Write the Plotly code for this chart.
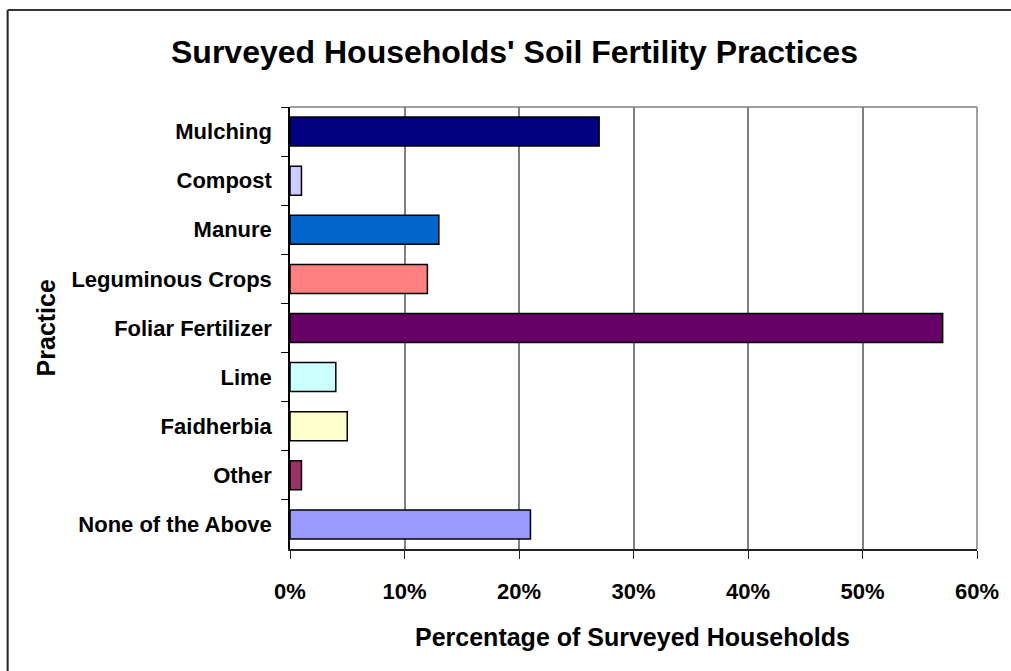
import plotly.graph_objects as go

practices = ["Mulching", "Compost", "Manure", "Leguminous Crops", "Foliar Fertilizer",
             "Lime", "Faidherbia", "Other", "None of the Above"]
percent = [0.27, 0.01, 0.13, 0.12, 0.57, 0.04, 0.05, 0.01, 0.21]
bar_colors = ["#000080", "#CCCCFF", "#0066CC", "#FF8080", "#660066",
              "#CCFFFF", "#FFFFCC", "#993366", "#9999FF"]
x_tick_vals = [0, 0.1, 0.2, 0.3, 0.4, 0.5, 0.6]
x_tick_text = ["0%", "10%", "20%", "30%", "40%", "50%", "60%"]

FONT = "Liberation Sans, Arial, sans-serif"

W, H = 1011, 671
L, R, T, B = 290, 30, 107, 122
pw, ph = W - L - R, H - T - B

def px_to_paper_x(px):
    return (px - L) / pw

def px_to_paper_y(py):
    return (H - B - py) / ph

fig = go.Figure()
fig.add_trace(go.Bar(
    y=practices, x=percent, orientation="h",
    marker=dict(color=bar_colors, line=dict(color="black", width=1.5)),
    showlegend=False, hoverinfo="x+y",
))

fig.update_layout(
    width=W, height=H, autosize=False,
    margin=dict(l=L, r=R, t=T, b=B, pad=0),
    paper_bgcolor="white", plot_bgcolor="white",
    bargap=0.41,
    font=dict(family=FONT, color="black"),
)

fig.update_xaxes(
    range=[0, 0.6], tickvals=x_tick_vals, ticktext=x_tick_text,
    showgrid=True, gridcolor="#808080", gridwidth=1.5,
    showline=True, linecolor="#222222", linewidth=1.5,
    ticks="outside", ticklen=8, tickcolor="#222222", tickwidth=1.2,
    tickfont=dict(family=FONT, size=22, weight="bold", color="black"),
    ticklabelstandoff=14,
    zeroline=False, fixedrange=True,
)
fig.update_yaxes(
    categoryorder="array", categoryarray=practices, autorange="reversed",
    showgrid=False, showline=True, linecolor="black", linewidth=1.5,
    ticks="outside", ticklen=7, tickcolor="black", tickwidth=1.2,
    tickson="boundaries",
    tickfont=dict(family=FONT, size=22, weight="bold", color="black"),
    ticklabelstandoff=12,
    fixedrange=True,
)

# plot-area border (top and right, gray)
fig.add_shape(type="line", xref="paper", yref="paper", x0=0, x1=1, y0=1, y1=1,
              line=dict(color="#808080", width=1.5), layer="below")
fig.add_shape(type="line", xref="paper", yref="paper", x0=1, x1=1, y0=0, y1=1,
              line=dict(color="#808080", width=1.5), layer="below")

# outer chart frame (left and top edges visible)
fig.add_shape(type="line", xref="paper", yref="paper",
              x0=px_to_paper_x(6), x1=px_to_paper_x(6),
              y0=px_to_paper_y(10), y1=px_to_paper_y(H + 5),
              line=dict(color="#222222", width=2))
fig.add_shape(type="line", xref="paper", yref="paper",
              x0=px_to_paper_x(6), x1=px_to_paper_x(W + 5),
              y0=px_to_paper_y(10), y1=px_to_paper_y(10),
              line=dict(color="#333333", width=2))

# title
fig.add_annotation(text="Surveyed Households' Soil Fertility Practices",
                   xref="paper", yref="paper",
                   x=px_to_paper_x(516), y=px_to_paper_y(52),
                   xanchor="center", yanchor="middle", showarrow=False,
                   font=dict(family=FONT, size=32, weight="bold", color="black"))
# x axis title
fig.add_annotation(text="Percentage of Surveyed Households",
                   xref="paper", yref="paper",
                   x=px_to_paper_x(634), y=px_to_paper_y(637),
                   xanchor="center", yanchor="middle", showarrow=False,
                   font=dict(family=FONT, size=25, weight="bold", color="black"))
# y axis title
fig.add_annotation(text="Practice", textangle=-90,
                   xref="paper", yref="paper",
                   x=px_to_paper_x(45), y=px_to_paper_y(328),
                   xanchor="center", yanchor="middle", showarrow=False,
                   font=dict(family=FONT, size=25, weight="bold", color="black"))

fig.write_html("out.html",
               config={"displayModeBar": False},
               post_script="document.body.style.margin='0';document.body.style.overflow='hidden';")
